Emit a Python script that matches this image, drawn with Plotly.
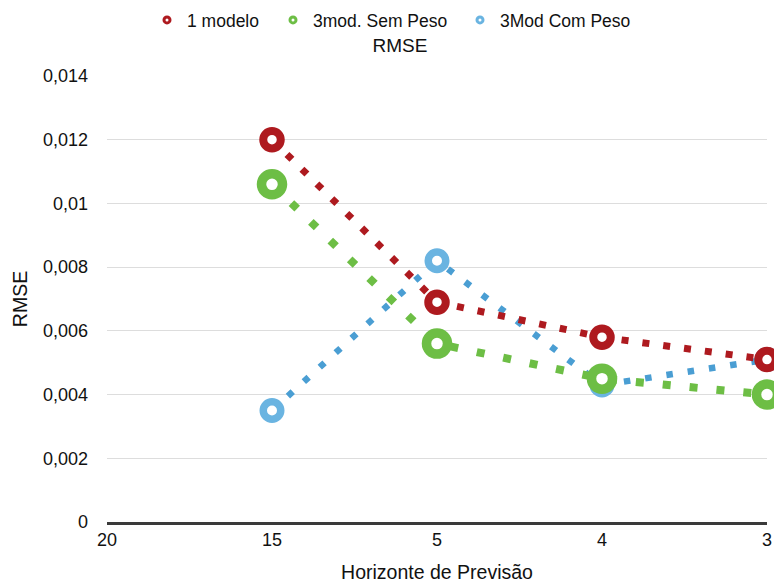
import plotly.graph_objects as go

# Forecast horizons (categorical x axis, in display order)
horizons = ["20", "15", "5", "4", "3"]
series_x = ["15", "5", "4", "3"]

# RMSE per model set
rmse_1_modelo = [0.0120, 0.0069, 0.0058, 0.0051]
rmse_3mod_sem_peso = [0.0106, 0.0056, 0.0045, 0.0040]
rmse_3mod_com_peso = [0.0035, 0.0082, 0.0043, 0.0051]

y_ticks = [0, 0.002, 0.004, 0.006, 0.008, 0.010, 0.012, 0.014]
y_tick_labels = ["0", "0,002", "0,004", "0,006", "0,008", "0,01", "0,012", "0,014"]

FONT = "Liberation Sans, Arial, Helvetica, sans-serif"
TEXT = "#111111"
RED = "#AE1A1F"
GREEN = "#6DBE45"
BLUE_LINE = "#4A9ED3"
BLUE_RING = "#6AB4E1"

W, H = 774, 583

fig = go.Figure()

# Data series (drawn blue, green, red so red sits on top)
series = [
    ("3Mod Com Peso", rmse_3mod_com_peso, BLUE_LINE, BLUE_RING, 6.5, "6.5px,15px", 17.5, 7.5),
    ("3mod. Sem Peso", rmse_3mod_sem_peso, GREEN, GREEN, 8, "8px,19px", 21, 9.5),
    ("1 modelo", rmse_1_modelo, RED, RED, 7, "7px,14px", 17.5, 8),
]
for name, vals, lcol, mcol, lw, dash, msize, mlw in series:
    fig.add_trace(go.Scatter(
        x=series_x, y=vals, name=name, mode="lines+markers",
        line=dict(color=lcol, width=lw, dash=dash),
        marker=dict(symbol="circle", size=msize, color="white",
                    line=dict(color=mcol, width=mlw)),
        showlegend=False, cliponaxis=False,
    ))

# Legend entries: small rings, one legend box each
legend_items = [
    ("1 modelo", RED, "legend", 147),
    ("3mod. Sem Peso", GREEN, "legend2", 273),
    ("3Mod Com Peso", BLUE_RING, "legend3", 460),
]
for name, col, lg, _ in legend_items:
    fig.add_trace(go.Scatter(
        x=[None], y=[None], name=name, mode="markers",
        marker=dict(symbol="circle", size=6, color="white",
                    line=dict(color=col, width=3)),
        legend=lg, showlegend=True,
    ))

legend_common = dict(
    orientation="h", xref="container", yref="container",
    xanchor="left", yanchor="middle", y=1 - 20 / H,
    font=dict(family=FONT, size=17.5, color=TEXT),
    bgcolor="rgba(0,0,0,0)", itemwidth=30,
)
layout_legends = {}
for name, col, lg, left in legend_items:
    layout_legends[lg] = dict(legend_common, x=left / W)

fig.update_layout(
    width=W, height=H,
    margin=dict(l=107, r=2, t=76, b=60),
    paper_bgcolor="white", plot_bgcolor="white",
    font=dict(family=FONT, size=18, color=TEXT),
    title=dict(text="RMSE", xref="container", yref="container",
               x=400 / W, y=1 - 45 / H, xanchor="center", yanchor="middle",
               font=dict(family=FONT, size=19, color=TEXT)),
    xaxis=dict(
        type="category", categoryorder="array", categoryarray=horizons,
        range=[0, len(horizons) - 1],
        showgrid=False, zeroline=False,
        showline=True, linecolor="#3A3A3A", linewidth=2.5,
        ticks="", tickfont=dict(family=FONT, size=18, color=TEXT),
        title=dict(text="Horizonte de Previsão", standoff=17,
                   font=dict(family=FONT, size=19.5, color=TEXT)),
    ),
    yaxis=dict(
        range=[0, 0.014], tickvals=y_ticks, ticktext=y_tick_labels,
        showgrid=True, gridcolor="#DDDDDD", gridwidth=1,
        zeroline=False, showline=False, ticks="",
        ticklabelstandoff=18,
        tickfont=dict(family=FONT, size=18, color=TEXT),
        title=dict(text="RMSE", standoff=10,
                   font=dict(family=FONT, size=19.5, color=TEXT)),
    ),
    **layout_legends,
)

fig.write_html("out.html")
